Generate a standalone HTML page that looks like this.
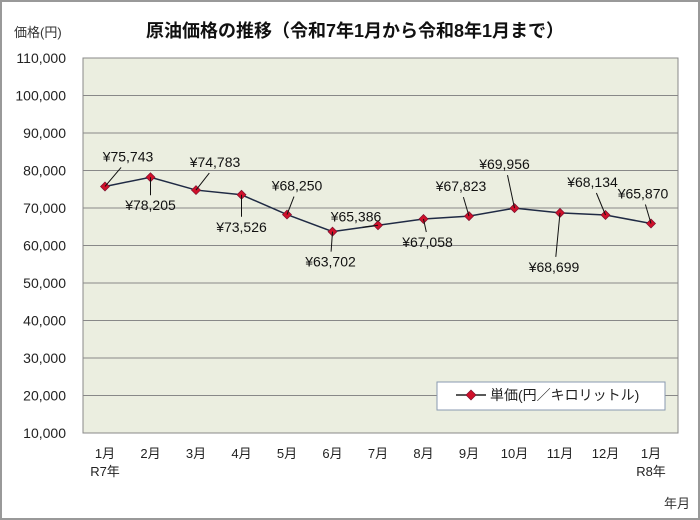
<!DOCTYPE html>
<html><head><meta charset="utf-8">
<style>
body{margin:0;background:#fff;}
svg{display:block;font-family:"Liberation Sans","Noto Sans CJK JP",sans-serif;}
</style></head>
<body>
<svg id="chart" width="700" height="520" viewBox="0 0 700 520">
<rect x="1" y="1" width="698" height="518" fill="#fff" stroke="#999" stroke-width="2"/>
<text x="355" y="37" text-anchor="middle" font-size="18" font-weight="bold" fill="#111">原油価格の推移（令和7年1月から令和8年1月まで）</text>
<text x="14" y="37" font-size="13" fill="#333">価格(円)</text>
<text x="690" y="508" text-anchor="end" font-size="13" fill="#333">年月</text>
<rect x="83" y="58" width="595" height="375" fill="#ebeee0" stroke="#888"/>
<g id="grid"></g><g id="yticks"></g><g id="xticks"></g><g id="series"></g><g id="labels"></g>
<g>
<rect x="437" y="382" width="228" height="28" fill="#fff" stroke="#8a9ab0"/>
<line x1="456" y1="395" x2="486" y2="395" stroke="#222" stroke-width="1.5"/>
<path d="M471 390 L476 395 L471 400 L466 395Z" fill="#d0102a" stroke="#7a1030" stroke-width="0.7"/>
<text x="490" y="400" font-size="14" fill="#222">単価(円／キロリットル)</text>
</g>
</svg>
<script>
const categories=["1月","2月","3月","4月","5月","6月","7月","8月","9月","10月","11月","12月","1月"];
const subLabels=["R7年","","","","","","","","","","","","R8年"];
const values=[75743,78205,74783,73526,68250,63702,65386,67058,67823,69956,68699,68134,65870];
const yTicks=[10000,20000,30000,40000,50000,60000,70000,80000,90000,100000,110000];
const labelOffsets=[[23,-25],[0,33],[19,-23],[0,37],[10,-24],[-2,35],[-22,-4],[4,28],[-8,-25],[-10,-39],[-6,59],[-13,-28],[-8,-25]];
const NS="http://www.w3.org/2000/svg";
const X=i=>105+i*45.5;
const Y=v=>433-(v-10000)/100000*375;
const fmt=v=>v.toLocaleString("en-US");
function mk(tag,attrs,parent,text){const e=document.createElementNS(NS,tag);for(const k in attrs)e.setAttribute(k,attrs[k]);if(text!==undefined)e.textContent=text;parent.appendChild(e);return e;}
const grid=document.getElementById("grid"),yt=document.getElementById("yticks"),xt=document.getElementById("xticks"),ser=document.getElementById("series"),lab=document.getElementById("labels");
yTicks.forEach(t=>{
  if(t>10000&&t<110000){const l=mk("line",{x1:83,x2:678,y1:Y(t),y2:Y(t),stroke:"#888","stroke-width":1},grid);
  
  }
  const tx=mk("text",{x:66,y:Y(t)+5,"text-anchor":"end","font-size":14,fill:"#222"},yt,fmt(t));
  
  
});
categories.forEach((c,i)=>{
  const t=mk("text",{x:X(i),y:458,"text-anchor":"middle","font-size":13,fill:"#222"},xt,c);
  
  
  if(subLabels[i]){const s=mk("text",{x:X(i),y:476,"text-anchor":"middle","font-size":13,fill:"#222"},xt,subLabels[i]);
  
  }
});
const pl=mk("polyline",{points:values.map((v,i)=>X(i)+","+Y(v)).join(" "),fill:"none",stroke:"#1f2a44","stroke-width":1.5},ser);


values.forEach((v,i)=>{
  const x=X(i),y=Y(v);
  const m=mk("path",{d:`M${x} ${y-4.5}L${x+4.5} ${y}L${x} ${y+4.5}L${x-4.5} ${y}Z`,fill:"#d0102a",stroke:"#7a1030","stroke-width":0.7},ser);
  
  
  const [dx,dy]=labelOffsets[i];
  const lx=x+dx, ly=y+dy;
  const ey=dy<0?ly+6:ly-15;
  const ld=mk("line",{x1:x,y1:y,x2:x+dx*0.7,y2:ey,stroke:"#111","stroke-width":1},lab);
  
  
  const t=mk("text",{x:lx,y:ly,"text-anchor":"middle","font-size":14,fill:"#111"},lab,"¥"+fmt(v));
  
  
});
</script>
</body></html>
